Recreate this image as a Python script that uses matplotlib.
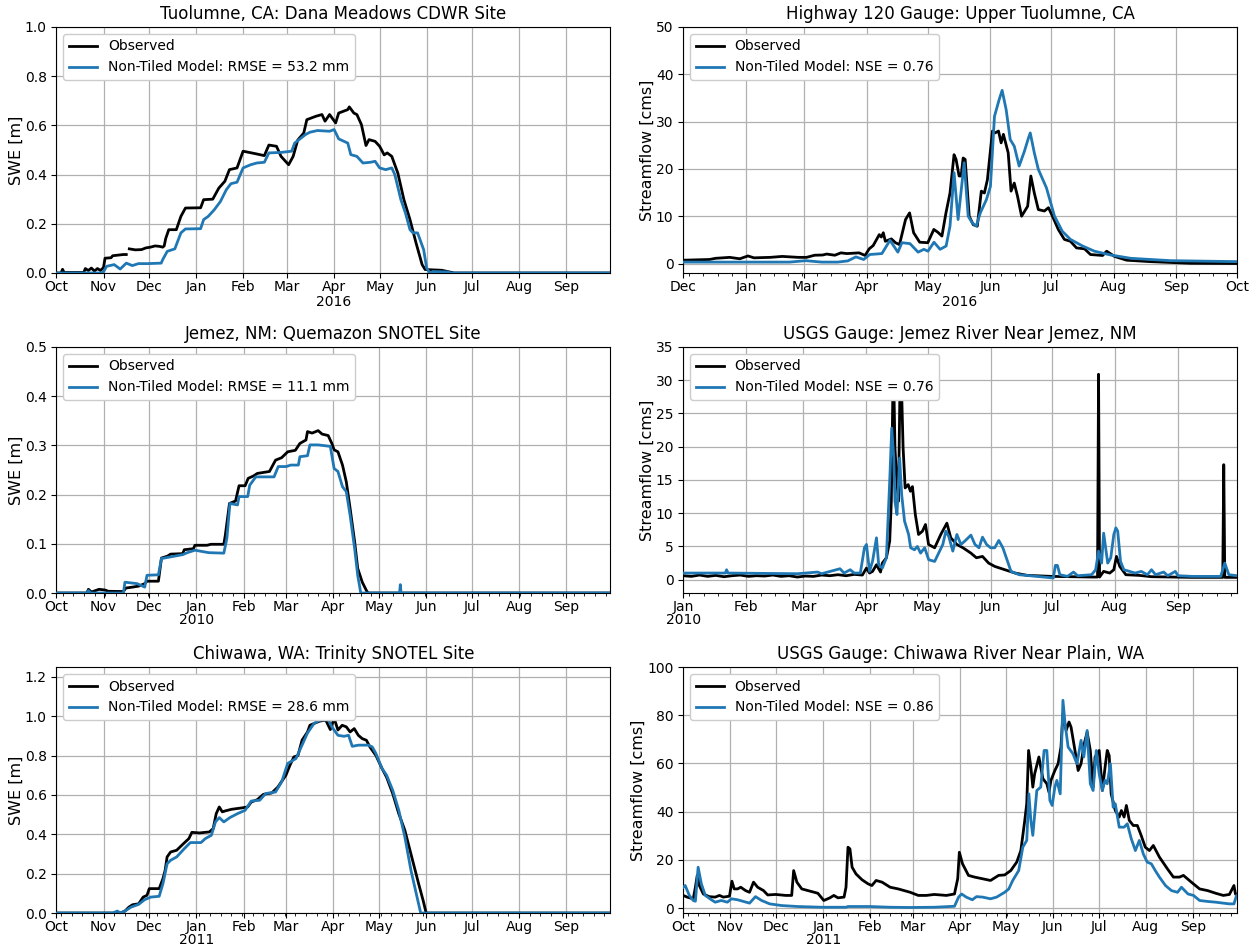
import numpy as np
import matplotlib
matplotlib.use("Agg")
import matplotlib.pyplot as plt
import matplotlib.dates as mdates
from matplotlib.ticker import FixedLocator, FixedFormatter, MultipleLocator

plt.rcParams['font.family'] = ['DejaVu Sans']

OBS_COLOR = 'black'
MOD_COLOR = '#1f77b4'
nan = np.nan

# ---------------------------------------------------------------------------
# Series: (days since period start, value)
# ---------------------------------------------------------------------------
# Tuolumne SWE [m], days since 2015-10-01
tuol_swe_obs = [(0, 0), (3, 0), (4, 0.015), (5, 0.002), (18, 0.002), (19, 0.018), (21, 0.01), (23, 0.02),
                (25, 0.008), (27, 0.018), (29, 0.01), (31, 0.022), (32, 0.06), (36, 0.062), (37, 0.07),
                (44, 0.075), (46, 0.075), (47, nan), (48, 0.098), (52, 0.094), (56, 0.095), (59, 0.102),
                (62, 0.105), (65, 0.11), (68, 0.108), (70, 0.105), (71, 0.11), (72, 0.14), (74, 0.176),
                (79, 0.176), (82, 0.23), (85, 0.264), (95, 0.265), (97, 0.298), (103, 0.30), (107, 0.345),
                (111, 0.373), (114, 0.42), (119, 0.427), (123, 0.495), (131, 0.485), (137, 0.477),
                (140, 0.52), (145, 0.515), (148, 0.474), (153, 0.44), (156, 0.474), (159, 0.54),
                (163, 0.569), (165, 0.623), (171, 0.637), (175, 0.644), (177, 0.617), (180, 0.644),
                (184, 0.61), (186, 0.65), (192, 0.664), (193, 0.675), (196, 0.65), (198, 0.644),
                (201, 0.603), (204, 0.518), (206, 0.542), (210, 0.535), (213, 0.515), (216, 0.48),
                (218, 0.488), (221, 0.474), (225, 0.406), (229, 0.298), (233, 0.217), (237, 0.122),
                (241, 0.034), (243, 0.014), (254, 0.011), (262, 0.0), (365, 0.0)]
tuol_swe_mod = [(0, 0), (30, 0), (31, 0.005), (33, 0.027), (38, 0.034), (42, 0.016), (46, 0.04), (50, 0.03),
                (54, 0.038), (60, 0.038), (69, 0.04), (70, 0.054), (73, 0.088), (78, 0.098), (82, 0.163),
                (85, 0.179), (95, 0.18), (97, 0.217), (100, 0.23), (104, 0.257), (108, 0.29), (112, 0.339),
                (115, 0.363), (119, 0.369), (123, 0.427), (128, 0.44), (132, 0.447), (137, 0.45),
                (140, 0.488), (148, 0.49), (155, 0.495), (157, 0.528), (164, 0.562), (167, 0.572),
                (172, 0.579), (180, 0.576), (183, 0.583), (186, 0.545), (192, 0.528), (194, 0.481),
                (198, 0.474), (202, 0.447), (207, 0.45), (210, 0.454), (213, 0.427), (217, 0.42),
                (221, 0.427), (223, 0.4), (227, 0.298), (230, 0.244), (233, 0.176), (235, 0.163),
                (238, 0.163), (242, 0.095), (244, 0.02), (246, 0.0), (248, 0.006), (258, 0.004),
                (260, 0.0), (365, 0.0)]

# Highway 120 streamflow [cms], days since 2016-01-01
tuol_q_obs = [(0, 0.7), (13, 0.85), (16, 1.1), (23, 1.3), (28, 1.0), (32, 1.6), (35, 1.2), (43, 1.3),
              (49, 1.5), (57, 1.3), (61, 1.3), (65, 1.75), (69, 1.8), (71, 2.0), (75, 1.75), (78, 2.25),
              (81, 2.1), (87, 2.25), (90, 1.7), (92, 3.1), (94, 3.8), (97, 6.1), (98, 5.6), (99, 6.5),
              (100, 4.7), (103, 5.2), (105, 4.4), (107, 4.0), (110, 9.3), (112, 10.7), (114, 6.5),
              (117, 4.5), (121, 4.4), (124, 7.2), (126, 6.6), (128, 5.8), (130, 10.7), (132, 14.9),
              (134, 23.0), (135, 22.0), (136.5, 18.5), (137.5, 18.5), (138.5, 22.3), (139.5, 22.0),
              (141.5, 10.0), (143.5, 8.2), (145.5, 7.9), (147.5, 15.3), (149, 14.9), (150.5, 17.7),
              (153, 28.0), (154.3, 27.6), (156, 28.0), (157.3, 25.5), (158.4, 27.3), (160.8, 23.4),
              (162.2, 15.3), (163.8, 17.0), (165.4, 14.2), (167.4, 10.0), (170.4, 12.1), (172, 18.5),
              (173.7, 14.9), (175.7, 11.4), (178.7, 11.1), (180.7, 11.8), (182.7, 10.0), (185.6, 7.2),
              (188.6, 5.1), (191.6, 4.7), (194.6, 3.3), (198.6, 3.1), (201.5, 1.9), (207.5, 1.7),
              (209.5, 2.6), (213.4, 1.5), (219.4, 0.7), (231, 0.4), (251, 0.05), (274, 0.0)]
tuol_q_mod = [(0, 0.3), (52.6, 0.3), (60.6, 0.6), (68.5, 0.3), (76.4, 0.3), (81.4, 0.55), (85.4, 1.4),
              (89.3, 0.85), (92.3, 1.9), (98.3, 2.1), (102.3, 4.9), (106.2, 2.4), (108.2, 4.4),
              (112.2, 4.2), (116.2, 2.4), (119.1, 3.0), (121.1, 2.6), (124.1, 4.5), (127.1, 3.0),
              (130.1, 3.7), (132, 7.9), (134, 19.2), (136, 9.3), (139, 21.3), (141, 10.0), (143, 8.6),
              (145, 7.9), (147, 10.7), (150, 13.5), (152, 16.3), (154, 31.1), (156.3, 34.6), (157.8, 36.6),
              (159.8, 32.5), (161.8, 26.2), (163.8, 24.8), (166.2, 20.6), (168.8, 23.7), (170.8, 26.5),
              (171.7, 27.6), (173.7, 23.4), (175.7, 19.9), (179.7, 16.0), (183.7, 10.0), (187.6, 6.8),
              (191.6, 5.1), (197.6, 3.7), (203.5, 2.6), (211.5, 1.8), (221.4, 1.1), (241.2, 0.6),
              (274, 0.4)]

# Quemazon SWE [m], days since 2009-10-01
jemez_swe_obs = [(0, 0), (20, 0), (21, 0.0075), (23, 0.002), (28, 0.0075), (32, 0.006), (34, 0.0035),
                 (44, 0.003), (45.5, 0.01), (50, 0.012), (54, 0.014), (58, 0.019), (59.5, 0.024), (67, 0.024),
                 (69, 0.071), (73, 0.075), (75, 0.079), (83, 0.08), (84, 0.088), (90, 0.09), (91, 0.097),
                 (99, 0.097), (101.5, 0.099), (110, 0.099), (111, 0.118), (113.7, 0.182), (117.7, 0.187),
                 (120, 0.218), (124, 0.218), (126, 0.233), (129.6, 0.238), (132, 0.243), (140, 0.247),
                 (144, 0.27), (148, 0.275), (152, 0.287), (157, 0.29), (160, 0.304), (164, 0.311),
                 (165, 0.328), (168, 0.325), (172, 0.33), (174.6, 0.323), (178.6, 0.32), (181, 0.304),
                 (182.5, 0.291), (185, 0.287), (188, 0.26), (190.5, 0.226), (193, 0.172), (196, 0.104),
                 (198, 0.05), (201, 0.022), (204, 0.0034), (205, 0), (364, 0)]
jemez_swe_mod = [(0, 0), (20, 0), (21, 0.005), (22.5, 0), (44, 0), (45, 0.022), (53, 0.019), (58, 0.012),
                 (59.5, 0.036), (67, 0.037), (69, 0.07), (83, 0.078), (86, 0.082), (91, 0.087), (100, 0.082),
                 (110, 0.081), (112, 0.111), (114, 0.182), (119, 0.179), (120, 0.196), (125.7, 0.196),
                 (127, 0.219), (131, 0.236), (143, 0.236), (145.8, 0.257), (151, 0.257), (154, 0.26),
                 (159, 0.26), (160, 0.277), (165, 0.279), (166.6, 0.301), (172, 0.301), (180, 0.298),
                 (182.5, 0.253), (185, 0.247), (188, 0.216), (190.5, 0.206), (193, 0.158), (196, 0.09),
                 (198, 0.036), (200, 0), (225.5, 0), (226, 0.017), (226.5, 0), (364, 0)]

# Jemez River streamflow [cms], days since 2010-01-01
jemez_q_obs = [(0, 0.6), (4, 0.5), (8, 0.7), (12, 0.5), (16, 0.65), (20, 0.45), (24, 0.6), (28, 0.7),
               (32, 0.5), (36, 0.6), (40, 0.55), (44, 0.7), (48, 0.5), (52, 0.6), (56, 0.4), (60, 0.55),
               (64, 0.5), (68, 0.7), (72, 0.6), (76, 0.75), (80, 0.6), (84, 0.8), (88, 0.7), (90, 1.75),
               (91.5, 1.0), (93, 1.25), (94.9, 2.25), (96.9, 1.15), (97.8, 2.5), (99.8, 3.3), (101.4, 5.8),
               (102.2, 11.8), (103, 29.0), (103.6, 27.0), (104, 19.8), (104.7, 15.8), (105.7, 11.8),
               (106.5, 30.0), (107.2, 29.0), (108, 19.8), (109, 13.8), (110.5, 14.3), (111.6, 13.3),
               (112.6, 14.0), (114, 9.8), (115.6, 6.8), (117.5, 7.3), (119, 8.3), (120.5, 5.3),
               (123.5, 4.8), (126.5, 6.8), (129.5, 8.5), (131.4, 6.3), (134.4, 5.3), (137.4, 4.8),
               (141.3, 4.0), (144, 3.3), (147, 3.5), (150, 2.5), (153, 2.0), (158, 1.5), (163, 1.0),
               (169, 0.65), (181, 0.5), (200.6, 0.4), (203.5, 0.4), (204, 30.9), (204.5, 0.4),
               (206.5, 1.25), (209.5, 1.0), (211.5, 1.5), (212.8, 3.5), (214.4, 2.0), (217.4, 0.75),
               (224, 0.65), (230, 0.45), (250, 0.35), (265, 0.35), (265.5, 17.3), (266, 0.35), (272, 0.35)]
jemez_q_mod = [(0, 1.0), (20.7, 1.0), (21.3, 1.5), (22, 1.0), (56, 0.9), (66, 1.15), (68, 0.9), (77, 1.65),
               (79, 1.0), (82, 1.5), (84, 1.0), (87, 1.0), (89, 4.8), (90, 5.3), (91.5, 1.25), (93, 2.8),
               (94.9, 6.3), (96, 2.25), (97.8, 1.75), (99.8, 3.3), (101.4, 14.8), (102.4, 22.8),
               (103.4, 18.3), (104, 11.8), (105, 9.8), (106.3, 18.3), (107.3, 12.8), (108.7, 8.8),
               (110.7, 6.8), (111.7, 4.8), (113.6, 4.5), (115, 5.0), (116.6, 4.0), (118.6, 4.8),
               (120.6, 3.0), (123.5, 2.75), (127.5, 5.3), (129, 7.3), (130.4, 6.5), (132.4, 4.3),
               (134.4, 6.8), (136.4, 5.3), (138.3, 5.8), (141.3, 6.7), (143.3, 5.3), (145.3, 4.8),
               (147, 6.4), (149, 5.3), (151, 4.8), (153, 4.8), (155, 5.9), (157, 4.8), (161, 1.25),
               (165, 0.75), (178.8, 0.35), (181.8, 0.25), (182.8, 2.15), (183.8, 2.15), (185, 0.75),
               (188.7, 0.5), (191.7, 1.15), (193.7, 0.6), (200.6, 0.75), (202.6, 1.5), (204, 4.3),
               (205.5, 2.5), (206.5, 7.0), (208.5, 2.5), (210, 3.3), (211.5, 6.8), (212.5, 7.8),
               (213.4, 7.3), (214.8, 2.75), (216.4, 1.5), (222, 1.0), (225, 1.25), (228, 0.75),
               (230, 1.5), (232, 0.75), (236, 1.15), (238, 0.6), (241.7, 1.25), (243, 0.6), (250, 0.5),
               (264, 0.5), (266, 2.5), (268, 0.75), (272, 0.6)]

# Trinity SWE [m], days since 2010-10-01
chiw_swe_obs = [(0, 0), (42, 0), (45, 0.01), (47.6, 0.03), (50, 0.042), (54, 0.047), (57, 0.081),
                (59.5, 0.09), (61, 0.124), (67.5, 0.124), (70, 0.175), (71.4, 0.217), (72.7, 0.285),
                (75, 0.31), (79, 0.319), (83, 0.349), (87, 0.378), (89, 0.41), (94, 0.407), (100.5, 0.412),
                (103, 0.429), (105, 0.505), (107, 0.539), (109, 0.514), (111, 0.519), (115, 0.527),
                (121.7, 0.534), (125.7, 0.539), (128, 0.564), (132, 0.576), (136, 0.603), (141.5, 0.61),
                (145.5, 0.64), (150.8, 0.7), (153.4, 0.75), (156, 0.793), (158.7, 0.8), (161.4, 0.878),
                (165, 0.92), (166.6, 0.954), (169.3, 0.963), (173, 0.975), (177, 0.98), (180, 0.932),
                (182.5, 0.99), (185, 0.93), (187.8, 0.954), (190.5, 0.946), (193, 0.92), (195.7, 0.937),
                (198.4, 0.903), (201, 0.886), (203.7, 0.878), (206, 0.844), (210, 0.8), (214, 0.734),
                (217, 0.69), (221, 0.607), (225, 0.505), (229, 0.42), (233, 0.3), (238, 0.15),
                (241, 0.064), (243, 0), (364, 0)]
chiw_swe_mod = [(0, 0), (37, 0), (40, 0.01), (42, 0), (45, 0.01), (49, 0.03), (54, 0.044), (58, 0.068),
                (62, 0.081), (67.5, 0.085), (70, 0.15), (72.7, 0.25), (75, 0.268), (79, 0.285), (84, 0.327),
                (88, 0.358), (95, 0.358), (97.8, 0.378), (101.8, 0.395), (104.5, 0.463), (107, 0.485),
                (110, 0.463), (114, 0.485), (119, 0.505), (124, 0.522), (128, 0.569), (133.6, 0.573),
                (137.5, 0.607), (144, 0.615), (148, 0.666), (152, 0.76), (157.4, 0.785), (161.4, 0.853),
                (165, 0.915), (169.3, 0.963), (173, 0.98), (178.6, 0.983), (181, 0.946), (185, 0.903),
                (189, 0.898), (192, 0.903), (194.4, 0.847), (198.4, 0.853), (205, 0.853), (207.6, 0.844),
                (210, 0.81), (214, 0.734), (217, 0.7), (221, 0.624), (225, 0.522), (229, 0.386),
                (233, 0.217), (237, 0.081), (239.4, 0), (364, 0)]

# Chiwawa River streamflow [cms], days since 2010-10-01
chiw_q_obs = [(0, 5.3), (2.6, 4.6), (6.6, 3.9), (8, 8.7), (9.2, 13.6), (10.6, 9.4), (13.2, 5.9), (17, 4.8),
              (21, 4.6), (23.8, 5.3), (26.4, 4.6), (30.4, 5.0), (32, 11.2), (33.5, 8.0), (35.7, 8.0),
              (37.8, 8.7), (41, 7.3), (43.6, 6.6), (46.2, 10.8), (48.9, 8.7), (52.8, 7.3), (55.5, 5.5),
              (60.8, 5.7), (67.4, 5.3), (71.3, 5.3), (72.6, 15.6), (74.7, 10.8), (77.9, 8.0), (83.2, 7.1),
              (88.5, 6.2), (90.6, 4.6), (92.4, 3.2), (96.4, 4.3), (99, 5.3), (101.7, 4.3), (105.7, 4.6),
              (107, 8.7), (108.3, 25.3), (109.6, 24.6), (111, 17.0), (113.6, 14.2), (117.5, 11.8),
              (121.5, 10.1), (124, 9.4), (126.8, 11.5), (130.7, 10.8), (136, 8.7), (141.3, 8.0),
              (149.2, 6.6), (154.5, 5.3), (159.8, 5.3), (165, 5.7), (173, 5.3), (178.3, 5.9),
              (180.4, 12.2), (181.5, 23.2), (183.6, 18.4), (187.5, 13.6), (191.5, 12.9), (196.8, 12.2),
              (202, 11.5), (207.3, 13.6), (211.3, 13.8), (215.3, 15.6), (219.2, 19.1), (221.9, 23.9),
              (224.5, 36.4), (225.8, 43.3), (227, 65.4), (228.5, 58.5), (229.8, 50.2), (231, 55.7),
              (233.8, 62.7), (235, 58.5), (236.4, 53.7), (239, 51.6), (240.4, 48.1), (241.7, 53.0),
              (244.3, 57.1), (246.4, 59.9), (248.3, 66.8), (249.6, 80.6), (251.7, 73.7), (253.6, 77.2),
              (254.9, 75.1), (257.5, 65.4), (259.6, 57.1), (261.5, 59.9), (263.6, 68.2), (265.5, 73.0),
              (267.6, 65.4), (269.4, 50.2), (270.7, 62.7), (273.4, 65.4), (275.5, 48.8), (277.3, 58.5),
              (278.7, 65.4), (280, 63.3), (281.3, 47.4), (284, 40.5), (286.6, 37.8), (288, 40.5),
              (289.8, 37.8), (291.3, 42.6), (293.2, 36.4), (295.8, 34.3), (298.5, 34.3), (301, 30.2),
              (303.7, 25.3), (306.4, 23.9), (309, 26.0), (313, 21.2), (318.3, 16.3), (322.2, 12.9),
              (326.2, 12.9), (328.8, 13.6), (334, 10.8), (339.4, 8.0), (344.7, 7.3), (350, 6.2),
              (355, 5.3), (359, 5.7), (362, 9.4), (363, 5.9), (365, 4.6)]
chiw_q_mod = [(0, 8.7), (1.3, 9.4), (4, 5.3), (6.6, 3.2), (8, 2.9), (9.8, 17.0), (11.9, 10.1), (14.5, 5.3),
              (18.5, 3.5), (21, 2.5), (25, 3.2), (29, 2.5), (31.7, 3.9), (35.7, 3.5), (43.6, 2.1),
              (47.5, 4.8), (51.5, 3.2), (56.8, 1.8), (64.7, 1.1), (75.3, 0.7), (91, 0.4), (107, 0.4),
              (108.3, 0.7), (122.8, 0.7), (136, 0.4), (149, 0.3), (165, 0.4), (178.3, 0.8), (181, 4.6),
              (183, 5.9), (186, 4.6), (190, 3.5), (192.8, 4.8), (196.8, 4.6), (202, 3.9), (206, 4.6),
              (211.3, 6.6), (214, 8.0), (216.6, 11.5), (220.5, 15.6), (223.2, 25.3), (225.8, 28.1),
              (227.2, 47.4), (228.5, 36.4), (229.8, 30.2), (232.4, 48.8), (235, 50.2), (237.2, 65.4),
              (239, 65.4), (241, 44.7), (242.5, 42.6), (244.3, 50.2), (245.6, 53.0), (247.8, 47.4),
              (249.6, 86.2), (251, 76.5), (253, 66.8), (256.2, 64.0), (258.8, 59.9), (261.5, 69.6),
              (263.3, 62.7), (265.5, 73.7), (267.6, 51.6), (269.4, 48.8), (271.5, 65.4), (273.4, 55.7),
              (275.5, 48.8), (277.3, 53.0), (278.7, 51.6), (280.8, 59.9), (282.6, 41.9), (284, 43.3),
              (286.6, 33.6), (289.8, 33.6), (291.9, 35.0), (294.5, 28.8), (297.2, 23.9), (299.8, 28.1),
              (302.4, 22.5), (305, 19.1), (307.7, 18.4), (310.3, 15.6), (313, 12.9), (317, 9.4),
              (320.9, 7.3), (324.9, 6.6), (327.5, 8.7), (331.8, 5.9), (335.4, 5.3), (339.4, 3.2),
              (344.7, 2.8), (350, 2.5), (355, 2.1), (359, 1.8), (362, 1.8), (363.7, 5.3), (365, 3.9)]

# ---------------------------------------------------------------------------
# Panel text
# ---------------------------------------------------------------------------
titles = ["Tuolumne, CA: Dana Meadows CDWR Site", "Highway 120 Gauge: Upper Tuolumne, CA",
          "Jemez, NM: Quemazon SNOTEL Site", "USGS Gauge: Jemez River Near Jemez, NM",
          "Chiwawa, WA: Trinity SNOTEL Site", "USGS Gauge: Chiwawa River Near Plain, WA"]
model_labels = ["Non-Tiled Model: RMSE = 53.2 mm", "Non-Tiled Model: NSE = 0.76",
                "Non-Tiled Model: RMSE = 11.1 mm", "Non-Tiled Model: NSE = 0.76",
                "Non-Tiled Model: RMSE = 28.6 mm", "Non-Tiled Model: NSE = 0.86"]
ylabels = ["SWE [m]", "Streamflow [cms]"] * 3
highway_tick_labels = ["Dec", "Jan", "Mar", "Apr", "May", "Jun", "Jul", "Aug", "Sep", "Oct"]

panels = [
    dict(obs=tuol_swe_obs, mod=tuol_swe_mod, start="2015-10-01", end="2016-09-30",
         ylim=(0, 1.0), ystep=0.2, year=None, xlabel="2016", minor=False, labels=None),
    dict(obs=tuol_q_obs, mod=tuol_q_mod, start="2016-01-01", end="2016-10-01",
         ylim=(-2, 50), ystep=10, year=None, xlabel="2016", minor=True, labels=highway_tick_labels),
    dict(obs=jemez_swe_obs, mod=jemez_swe_mod, start="2009-10-01", end="2010-09-30",
         ylim=(0, 0.5), ystep=0.1, year="2010", xlabel=None, minor=True, labels=None),
    dict(obs=jemez_q_obs, mod=jemez_q_mod, start="2010-01-01", end="2010-09-30",
         ylim=(-2, 35), ystep=5, year="2010", xlabel=None, minor=True, labels=None),
    dict(obs=chiw_swe_obs, mod=chiw_swe_mod, start="2010-10-01", end="2011-09-30",
         ylim=(0, 1.25), ystep=0.2, year="2011", xlabel=None, minor=True, labels=None),
    dict(obs=chiw_q_obs, mod=chiw_q_mod, start="2010-10-01", end="2011-09-30",
         ylim=(-2, 100), ystep=20, year="2011", xlabel=None, minor=True, labels=None),
]

MONTHS = ["Jan", "Feb", "Mar", "Apr", "May", "Jun", "Jul", "Aug", "Sep", "Oct", "Nov", "Dec"]


def to_dates(start, pairs):
    arr = np.array(pairs, dtype=float)
    base = np.datetime64(start, "h")
    hours = np.round(arr[:, 0] * 24).astype("int64").astype("timedelta64[h]")
    return base + hours, arr[:, 1]


def month_axis(ax, start, end, year, labels, minor):
    s = np.datetime64(start, "D")
    e = np.datetime64(end, "D")
    months = np.arange(np.datetime64(start, "M"), np.datetime64(end, "M") + 1)
    ticks = months.astype("datetime64[D]")
    ticks = ticks[(ticks >= s) & (ticks <= e)]
    if labels is None:
        labels = []
        for t in ticks:
            m = int(str(t)[5:7])
            txt = MONTHS[m - 1]
            if m == 1 and year is not None:
                txt += "\n" + year
            labels.append(txt)
    ax.xaxis.set_major_locator(FixedLocator(mdates.date2num(ticks)))
    ax.xaxis.set_major_formatter(FixedFormatter(labels))
    if minor:
        ax.xaxis.set_minor_locator(mdates.WeekdayLocator(byweekday=mdates.MO))
    ax.set_xlim(mdates.date2num(s), mdates.date2num(e))


fig, axes = plt.subplots(3, 2, figsize=(12.58, 9.49), dpi=100)
fig.subplots_adjust(left=0.0449, right=0.9833, top=0.9716, bottom=0.0379,
                    wspace=0.1318, hspace=0.3008)

for ax, p, title, mlab, ylab in zip(axes.flat, panels, titles, model_labels, ylabels):
    xo, yo = to_dates(p["start"], p["obs"])
    xm, ym = to_dates(p["start"], p["mod"])
    ax.plot(xo, yo, color=OBS_COLOR, lw=2, label="Observed", zorder=3)
    ax.plot(xm, ym, color=MOD_COLOR, lw=2, label=mlab, zorder=3)
    month_axis(ax, p["start"], p["end"], p["year"], p["labels"], p["minor"])
    ax.set_ylim(*p["ylim"])
    ax.yaxis.set_major_locator(MultipleLocator(p["ystep"]))
    if p["ystep"] < 1:
        ax.yaxis.set_major_formatter(matplotlib.ticker.FormatStrFormatter("%.1f"))
    ax.grid(True, color="#b0b0b0", lw=0.9)
    ax.set_axisbelow(True)
    ax.tick_params(axis="both", which="major", labelsize=10, length=3.5)
    ax.tick_params(axis="x", which="major", pad=1.5)
    ax.tick_params(axis="x", which="minor", length=2)
    for lbl in ax.get_xticklabels():
        lbl.set_linespacing(0.95)
    ax.set_title(title, fontsize=12)
    ax.set_ylabel(ylab, fontsize=11.5, labelpad=1)
    if p["xlabel"]:
        ax.set_xlabel(p["xlabel"], fontsize=10, labelpad=1)
    ax.legend(loc="upper left", fontsize=10, framealpha=1.0)

fig.savefig("out.png", dpi=100)
